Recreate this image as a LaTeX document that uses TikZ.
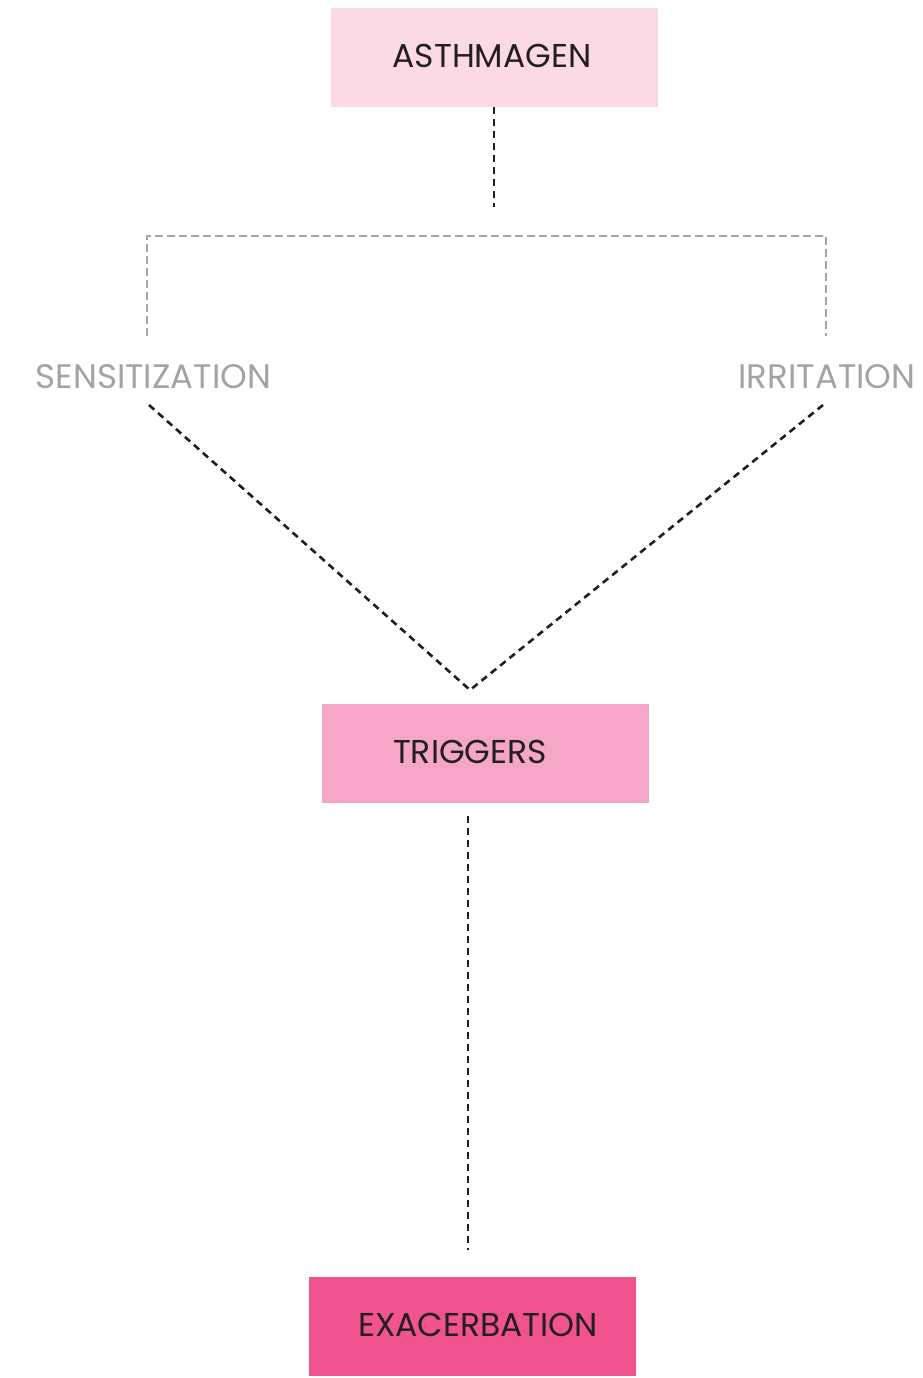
\documentclass[tikz,border=0pt]{standalone}
\usepackage{fontspec}
\setmainfont{Poppins}
\definecolor{txt}{HTML}{231F20}
\definecolor{gtxt}{HTML}{A3A3A3}
\definecolor{gline}{HTML}{A6A6A6}
\definecolor{pinkA}{HTML}{FCDAE5}
\definecolor{pinkB}{HTML}{F5A5C5}
\definecolor{pinkC}{HTML}{F0538E}
\tikzset{
  box/.style={minimum width=327pt,minimum height=99pt,inner sep=0pt,draw=none},
  lbl/.style={text=txt,font=\fontsize{33}{36}\selectfont,inner sep=0pt,anchor=center},
  glbl/.style={text=gtxt,font=\fontsize{34}{37}\selectfont,inner sep=0pt,anchor=center},
  blackdash/.style={draw=txt,line width=2.6pt,dash pattern=on 7pt off 5pt},
  graydash/.style={draw=gline,line width=2.2pt,dash pattern=on 8pt off 4pt}
}
\begin{document}
\begin{tikzpicture}[x=1pt,y=-1pt]
\useasboundingbox (0,0) rectangle (922,1378);
% boxes
\node[box,fill=pinkA] (asthBox) at (494.5,57.5) {};
\node[lbl] (asth) at (492,56) {ASTHMAGEN};
\node[box,fill=pinkB] (trigBox) at (485.5,753.5) {};
\node[lbl] (trig) at (470,752) {TRIGGERS};
\node[box,fill=pinkC] (exacBox) at (472.5,1326.5) {};
\node[lbl] (exac) at (478,1325) {EXACERBATION};
% side labels
\node[glbl] (sens) at (153.5,377) {SENSITIZATION};
\node[glbl] (irr) at (827,377) {IRRITATION};
% coordinates
\coordinate (asthEnd) at (494,207);
\coordinate (brL) at (147,336);
\coordinate (brLt) at (147,236);
\coordinate (brRt) at (826,236);
\coordinate (brR) at (826,336);
\coordinate (sensEnd) at (149,405);
\coordinate (irrEnd) at (823,405);
\coordinate (apex) at (470,690);
\coordinate (trigEnd) at (468,816);
\coordinate (exacEnd) at (468,1250);
% connectors
\draw[blackdash] (asthBox.south -| asthEnd) -- (asthEnd);
\draw[graydash] (brL) -- (brLt) -- (brRt) -- (brR);
\draw[blackdash] (sensEnd) -- (apex) -- (irrEnd);
\draw[blackdash] (trigEnd) -- (exacEnd);
\end{tikzpicture}
\end{document}
